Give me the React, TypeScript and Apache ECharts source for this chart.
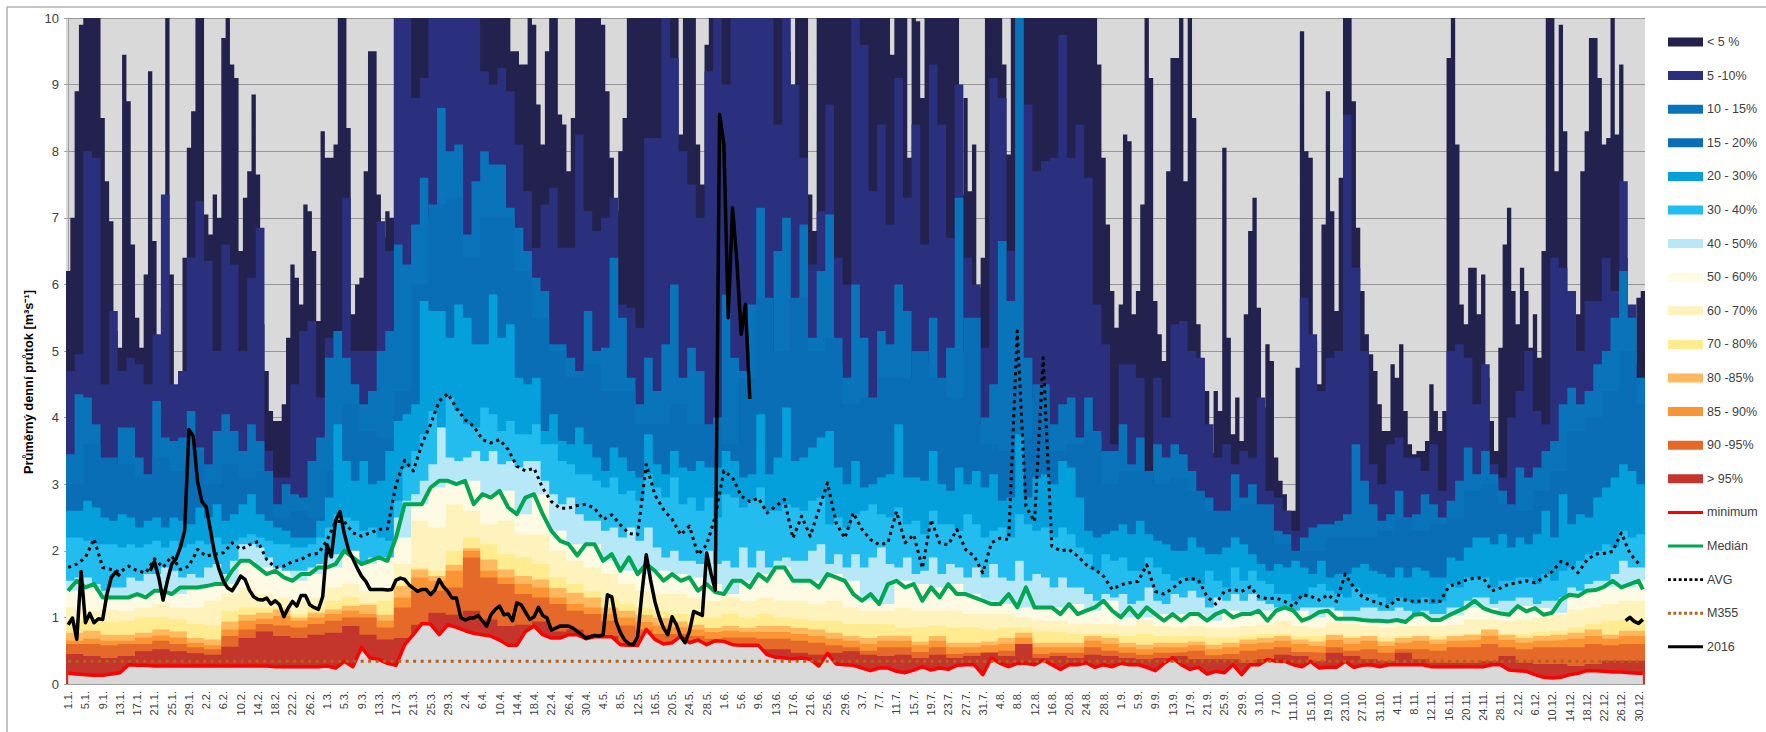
import React, { useEffect, useRef } from "react";
import * as echarts from "echarts";

const monthLengths = [31, 29, 31, 30, 31, 30, 31, 31, 30, 31, 30, 31];
const dayLabels: string[] = [];
monthLengths.forEach((len, m) => {
  for (let d = 1; d <= len; d++) dayLabels.push(`${d}.${m + 1}.`);
});

// Upper edge of each band. band5 is read per day, the next ones every 2nd day, the lowest every 4th day.
const band5 = [
  6.2,7.0,8.9,9.9,10,10,10,10,8.5,7.55,
  6.95,5.3,5.05,9.45,8.75,6.6,5.5,5.05,6.15,9.2,
  6.65,4.0,5.65,10,6.15,4.4,4.7,6.4,8.05,8.6,
  10,10,7.05,6.75,7.35,7.0,9.7,10,9.3,9.1,
  6.5,7.3,7.7,8.85,7.65,5.4,4.7,4.1,3.95,3.95,
  4.2,5.2,6.3,6.1,5.7,7.2,7.1,6.5,5.45,8.3,
  7.9,7.9,8.1,10,10,8.35,5.55,6.0,6.1,7.7,
  9.5,9.5,7.35,6.7,7.1,7.0,10,10,10,10,
  10,10,10,10,10,10,10,10,10,10,
  10,10,10,10,10,10,10,10,10,10,
  10,10,10,9.5,9.5,9.3,9.3,10,9.9,8.7,
  8.1,9.5,10,10,8.55,8.4,7.7,8.5,10,10,
  10,10,10,10,9.9,8.9,7.9,7.1,8.0,8.5,
  10,10,10,10,10,10,10,10,10,10,
  10,10,8.25,10,10,10,8.1,7.5,9.6,10,
  10,10,10,10,10,10,10,10,10,10,
  10,10,10,10,10,10,10,9.5,8.55,10,
  10,10,7.35,6.8,10,10,10,10,10,10,
  10,10,10,10,10,10,10,10,10,10,
  10,9.45,10,10,10,7.9,10,9.95,8.8,10,
  10,10,10,10,10,10,10,7.35,8.8,7.4,
  8.1,5.95,6.4,10,10,10,10,9.3,7.95,10,
  10,10,10,10,10,10,10,10,10,10,
  10,10,10,10,10,10,10,10,10,9.3,
  7.9,6.9,5.9,5.35,5.7,8.25,8.15,5.55,5.9,7.2,
  10,9.1,5.75,5.25,4.85,7.7,9.4,9.4,10,7.55,
  10,8.5,5.4,4.45,4.4,3.47,4.4,4.1,8.05,5.2,
  3.75,4.3,3.65,5.55,6.8,7.3,5.65,4.15,5.1,4.85,
  3.4,3.05,2.85,2.6,2.6,4.75,9.8,8.0,7.9,5.15,
  4.5,6.9,8.9,7.1,5.6,7.6,10,10,8.75,6.85,
  5.9,5.25,4.95,4.7,4.2,3.8,3.8,4.8,4.6,5.1,
  4.1,3.6,3.45,3.5,3.5,3.65,4.5,4.1,3.8,4.1,
  9.4,10,8.1,5.7,5.4,6.25,6.25,5.55,6.15,4.6,
  3.95,3.5,5.05,6.6,7.15,5.9,5.4,6.25,5.9,5.05,
  5.55,4.9,6.5,10,10,7.7,9.9,8.3,5.2,4.9,
  5.55,7.7,8.3,9.7,9.7,9.1,8.1,8.2,10,8.25,
  9.3,6.4,5.05,4.8,5.8,5.9,
];
const band10 = [
  4.7,4.95,8,7.9,4.5,5.6,4.7,4.9,4.8,4.5,
  5.25,7.35,4.5,4.7,6.4,7.25,6.35,5.0,6.6,6.3,
  5.0,6.1,6.85,3.5,3.1,3.1,4.5,5.3,5.45,4.3,
  5.2,5.3,7.3,5.0,5.0,5.0,6.95,6.5,10,10,
  8.8,9.1,10,10,10,10,10,10,9.2,9.0,
  9.25,8.9,8.1,7.4,6.55,7.2,7.45,6.55,6.55,8.25,
  7.1,6.8,7.0,7.3,5.7,5.65,5.35,8.2,8.2,10,
  9.4,8.0,7.5,7.0,9.2,10,9.0,10,10,10,
  10,10,8.4,10,9.0,7.9,6.3,7.1,8.7,6.4,
  6.0,10,9.6,7.4,8.4,6.9,9.1,7.3,8.4,6.6,
  9.3,8.4,6.7,9.0,6.4,6.0,5.05,9.1,8.8,6.5,
  10,8.7,7.7,7.85,7.9,9.75,7.9,8.4,7.6,5.7,
  5.1,3.6,4.8,4.8,4.6,3.1,4.6,4.0,5.4,5.45,
  5.0,4.9,3.9,3.4,3.6,3.3,3.5,3.4,4.3,2.9,
  2.8,2.6,2.3,5.8,5.25,4.4,4.9,5.0,8.55,6.25,
  5.0,3.3,3.0,3.6,3.7,3.4,3.4,3.2,3.6,2.9,
  5.0,5.1,4.9,4.2,4.8,3.3,3.1,4.0,4.4,5.0,
  4.1,3.9,6.4,6.25,5.9,5.0,5.75,5.75,6.4,5.9,
  7.55,5.7,4.4,
];
const band15 = [
  3.45,4.35,4.3,3.9,3.3,3.05,3.85,3.85,3.4,3.15,
  4.25,3.7,3.65,3.7,4.1,3.55,3.3,3.8,4.05,3.8,
  3.5,3.9,3.65,2.8,2.7,3.0,2.85,2.8,3.35,3.7,
  4.9,5.3,4.9,4.5,4.2,4.4,5.0,5.3,6.6,6.3,
  6.9,7.6,7.0,8.65,8.0,8.1,6.75,7.55,8.0,7.8,
  7.8,7.15,6.85,6.5,6.1,5.9,5.1,5.1,4.9,4.7,
  5.6,5.0,5.05,6.4,5.5,4.6,4.2,4.9,4.4,5.1,
  6.0,4.6,5.05,4.7,3.6,4.0,5.85,4.9,4.7,5.7,
  7.15,5.0,6.5,7.0,5.0,6.9,5.2,6.2,7.05,4.8,
  4.6,6.0,5.2,4.2,5.3,5.1,6.0,5.6,4.6,4.8,
  5.5,4.4,5.05,7.3,5.0,3.9,4.0,4.5,6.65,5.75,
  10,4.9,4.3,4.2,3.9,4.2,4.3,3.7,4.3,3.7,
  3.5,3.5,3.9,3.3,3.7,2.8,3.6,3.4,3.6,3.45,
  3.2,2.7,2.8,2.35,2.45,3.15,2.8,3.0,2.35,2.25,
  2.3,2.25,1.85,2.2,2.35,2.4,2.4,2.45,2.55,3.6,
  3.05,2.7,2.45,2.55,2.9,2.5,2.55,2.85,2.7,2.5,
  2.75,3.05,3.55,3.15,3.5,3.15,2.9,2.65,3.25,3.1,
  3.25,3.5,3.65,4.2,4.45,4.2,4.4,4.8,5.0,5.5,
  6.2,5.5,4.6,
];
const band20 = [
  3.0,3.6,3.4,3.3,3.1,3.4,3.2,3.5,3.0,3.3,
  3.1,3.2,2.5,2.6,2.5,3.2,4.2,3.8,3.7,4.4,
  6.0,7.2,7.3,6.4,7.0,7.0,6.2,5.5,5.0,4.6,
  4.8,4.4,4.4,3.9,3.9,4.2,3.9,3.9,3.6,4.6,
  5.8,5.0,5.8,5.0,5.2,4.2,4.3,4.6,4.6,5.0,
  4.6,4.3,5.5,3.6,3.5,3.7,4.5,3.5,3.6,3.8,
  3.0,3.2,3.2,3.0,3.1,2.9,2.6,2.6,2.7,2.7,
  2.1,2.0,2.0,2.2,2.2,2.2,2.3,2.5,2.3,2.4,
  2.5,2.9,3.0,2.7,2.6,2.9,3.2,3.8,4.0,4.4,
  5.0,4.2,
];
const band30 = [
  2.6,2.6,2.75,2.65,2.5,2.45,2.55,2.5,2.35,2.45,
  2.5,2.35,2.5,2.45,2.4,2.65,2.5,2.7,2.45,2.55,
  2.7,2.85,2.55,2.45,2.35,2.3,2.2,2.2,2.2,2.45,
  2.8,3.9,3.35,3.05,3.35,3.0,3.05,3.5,3.95,4.05,
  4.2,5.75,5.6,5.6,5.2,5.7,5.5,5.1,5.1,5.85,
  5.2,5.4,4.6,4.5,4.6,3.8,4.05,3.65,3.6,3.85,
  3.6,3.4,3.2,3.55,3.4,3.2,3.1,3.75,3.3,3.15,
  3.5,3.25,3.2,3.35,3.25,3.25,3.5,3.35,3.1,3.15,
  4.05,3.15,3.4,4.15,3.35,3.4,3.55,3.7,3.8,3.25,
  3.0,3.35,2.95,3.0,3.1,3.15,3.9,3.1,3.1,3.05,
  3.5,3.0,2.9,3.25,3.0,3.2,2.95,3.15,2.75,2.8,
  3.75,2.8,3.1,3.15,3.0,3.35,3.25,2.8,2.3,2.2,
  2.25,2.3,2.4,2.25,2.45,2.25,2.15,2.1,2.0,2.0,
  2.2,2.05,1.95,1.95,2.05,2.2,2.1,1.95,1.8,1.7,
  1.8,1.75,1.85,1.75,1.65,1.85,1.6,1.65,1.65,1.75,
  1.8,1.7,1.65,1.6,1.75,1.6,1.75,1.7,1.6,1.6,
  1.9,1.85,2.05,2.2,2.2,2.1,2.25,2.05,2.2,2.1,
  2.25,2.6,2.2,2.85,2.4,2.55,2.5,2.8,2.95,3.1,
  3.3,3.2,3.0,
];
const band40 = [
  2.2,2.2,2.15,2.1,2.1,2.1,2.05,2.1,2.05,2.1,
  2.15,2.05,2.15,2.05,2.1,2.15,2.1,2.2,2.1,2.15,
  2.2,2.25,2.2,2.15,2.1,2.1,2.05,2.05,2.1,2.2,
  2.35,2.55,2.5,2.45,2.3,2.35,2.2,2.15,2.75,3.25,
  3.5,3.75,4.1,3.85,4.3,4.1,3.9,3.85,4.15,4.05,
  3.8,3.95,3.75,3.75,3.9,3.6,3.6,3.35,3.3,3.15,
  3.15,3.05,2.95,3.1,2.85,2.9,2.75,3.15,2.95,2.8,
  3.1,2.7,2.8,2.6,2.8,2.5,2.85,2.8,2.65,2.75,
  2.95,2.6,2.6,2.7,2.65,2.6,2.75,2.8,2.4,2.5,
  2.35,2.55,2.6,2.7,2.55,2.5,2.65,2.4,2.45,2.25,
  2.6,2.4,2.4,2.3,2.55,2.4,2.2,2.3,2.35,2.2,
  2.55,2.4,2.3,2.35,2.2,2.35,2.25,2.05,1.95,1.7,
  1.95,1.85,1.9,1.7,1.7,1.9,1.75,1.65,1.55,1.6,
  1.55,1.5,1.7,1.55,1.45,1.75,1.55,1.7,1.55,1.5,
  1.35,1.35,1.25,1.3,1.45,1.5,1.4,1.35,1.3,1.45,
  1.35,1.35,1.3,1.2,1.3,1.25,1.2,1.3,1.2,1.25,
  1.5,1.45,1.6,1.6,1.6,1.45,1.55,1.55,1.6,1.6,
  1.5,1.65,1.55,1.7,1.75,1.85,1.95,2.0,2.1,2.05,
  2.3,2.2,2.25,
];
const band50 = [
  1.55,1.6,1.6,1.5,1.4,1.45,1.45,1.6,1.55,1.65,
  1.65,1.75,1.7,1.6,1.65,1.6,1.75,1.8,1.65,1.85,
  2.1,2.1,2.05,1.9,1.75,1.65,1.7,1.7,1.75,1.8,
  1.9,1.95,2.0,1.9,1.8,1.9,1.9,1.85,2.5,2.75,
  2.85,3.05,3.3,3.85,3.4,3.35,3.4,3.5,3.35,3.5,
  3.3,3.35,3.25,3.35,3.35,3.05,2.85,2.7,2.8,2.55,
  2.45,2.45,2.3,2.35,2.2,2.35,2.15,2.35,2.05,1.9,
  2.0,1.85,1.85,1.8,2.0,1.8,1.85,1.75,2.05,1.75,
  2.0,1.75,1.85,1.9,1.85,1.85,2.0,2.1,1.8,1.95,
  1.75,1.95,1.75,1.9,2.05,1.8,1.75,1.9,1.65,1.7,
  1.9,1.65,1.8,1.75,1.6,1.75,1.6,1.8,1.6,1.55,
  1.85,1.55,1.65,1.6,1.45,1.6,1.45,1.45,1.35,1.25,
  1.35,1.3,1.35,1.2,1.25,1.45,1.25,1.2,1.35,1.3,
  1.4,1.3,1.15,1.3,1.25,1.35,1.25,1.35,1.25,1.2,
  1.15,1.15,1.1,1.15,1.15,1.15,1.15,1.1,1.1,1.1,
  1.15,1.15,1.1,1.1,1.15,1.1,1.05,1.1,1.05,1.05,
  1.15,1.15,1.25,1.3,1.3,1.2,1.25,1.25,1.3,1.3,
  1.2,1.25,1.25,1.3,1.45,1.4,1.5,1.55,1.55,1.65,
  1.85,1.75,1.75,
];
const band60 = [
  1.4,1.45,1.3,1.3,1.35,1.4,1.35,1.45,1.47,1.5,
  1.85,1.75,1.7,1.55,1.65,1.75,2.0,1.8,1.9,2.2,
  2.7,2.95,3.05,3.05,2.85,2.9,2.55,2.85,2.3,2.1,
  2.1,1.85,1.7,1.65,1.7,1.65,1.6,1.5,1.35,1.55,
  1.65,1.75,1.55,1.55,1.65,1.55,1.25,1.2,1.55,1.5,
  1.45,1.5,1.35,1.25,1.2,1.15,1.15,1.15,1.2,1.1,
  1.25,1.0,1.0,1.05,1.05,1.05,.95,1.1,1.05,1.1,
  1.1,1.1,1.0,1.1,.98,.96,.95,.96,1.04,.96,
  1.03,1.15,1.14,1.06,1.17,1.14,1.07,1.34,1.4,1.46,
  1.45,1.55,
];
const band70 = [
  1.15,1.1,1.12,1.1,1.15,1.2,1.15,1.15,1.25,1.35,
  1.45,1.35,1.3,1.25,1.3,1.45,1.5,1.4,1.45,1.8,
  2.45,2.35,2.7,2.6,2.4,2.45,2.25,2.25,2.0,1.85,
  1.75,1.65,1.5,1.4,1.35,1.35,1.3,1.25,1.3,1.25,
  1.3,1.25,1.25,1.2,1.25,1.15,1.1,1.1,1.15,1.1,
  1.1,1.1,1.05,1.05,1.05,1.0,.95,.95,.9,.9,
  .9,.87,.95,.87,.85,.87,.85,.85,.87,.89,
  .95,.87,.85,.92,.9,.87,.85,.87,.87,.87,
  .89,.97,.97,.95,.97,.99,1.04,1.12,1.15,1.2,
  1.25,1.25,
];
const band80 = [
  .95,.95,.93,.95,1.0,1.0,.97,.9,.88,1.1,
  1.15,1.15,1.15,1.05,1.15,1.25,1.3,1.22,1.25,1.5,
  1.75,1.7,2.0,2.2,2.1,1.95,1.9,1.8,1.6,1.5,
  1.4,1.3,1.2,1.15,1.1,1.05,1.05,1.0,1.05,1.0,
  1.05,1.0,.98,.95,.95,.9,.9,.9,.85,.85,
  .88,.85,.85,.82,.85,.85,.8,.78,.75,.75,
  .75,.72,.75,.72,.72,.72,.7,.7,.72,.75,
  .75,.72,.72,.73,.72,.7,.7,.72,.72,.72,
  .72,.75,.76,.75,.76,.78,.8,.85,.9,.95,
  .97,.95,
];
const band85 = [
  .77,.8,.74,.74,.77,.82,.79,.69,.67,.94,
  1.04,1.07,1.12,1.0,1.07,1.12,1.17,1.19,1.04,1.47,
  1.72,1.62,1.79,2.04,1.87,1.72,1.62,1.57,1.44,1.37,
  1.3,1.15,1.1,1.04,.99,.94,.89,.84,.87,.84,
  .87,.87,.84,.82,.77,.72,.69,.72,.72,.64,
  .72,.62,.62,.64,.69,.77,.62,.62,.62,.72,
  .69,.62,.59,.62,.62,.64,.59,.62,.67,.69,
  .72,.67,.64,.74,.69,.72,.64,.69,.72,.67,
  .72,.74,.82,.74,.69,.72,.74,.77,.82,.74,
  .8,.8,
];
const band90 = [
  .65,.68,.65,.65,.7,.73,.7,.62,.58,.82,
  .95,.98,1.02,.95,1.0,1.05,1.1,1.05,.95,1.3,
  1.6,1.55,1.7,2.0,1.7,1.6,1.5,1.45,1.3,1.2,
  1.15,1.05,1.0,.93,.88,.85,.82,.78,.8,.78,
  .78,.78,.75,.72,.68,.65,.6,.65,.65,.58,
  .65,.55,.55,.58,.6,.7,.55,.55,.55,.65,
  .6,.55,.52,.55,.55,.58,.52,.55,.6,.62,
  .65,.6,.57,.66,.6,.65,.57,.62,.65,.6,
  .65,.66,.72,.66,.62,.65,.66,.68,.72,.68,
  .72,.72,
];
const band95 = [
  .6,.6,.58,.6,.6,.65,.6,.55,.52,.72,
  .82,.9,.88,.85,.9,.95,1.0,1.0,.85,1.15,
  1.4,1.4,1.45,1.9,1.6,1.5,1.35,1.3,1.2,1.1,
  1.05,.95,.88,.82,.75,.75,.72,.68,.7,.7,
  .68,.68,.65,.62,.58,.55,.5,.55,.55,.48,
  .55,.45,.47,.48,.5,.6,.45,.47,.47,.55,
  .5,.47,.44,.47,.48,.5,.43,.45,.5,.52,
  .55,.48,.47,.55,.5,.52,.47,.52,.52,.5,
  .55,.55,.6,.55,.52,.55,.55,.55,.6,.58,
  .6,.6,
];
const bandTop = [
  .45,.42,.39,.42,.49,.52,.49,.46,.44,.56,
  .69,.79,.72,.69,.74,.77,.87,.74,.67,.69,
  .89,1.07,1.04,1.1,.97,.87,.89,.94,.79,.82,
  .74,.72,.62,.6,.62,.57,.6,.57,.57,.57,
  .52,.52,.47,.44,.47,.49,.44,.42,.44,.39,
  .44,.39,.42,.47,.42,.6,.39,.42,.39,.44,
  .42,.39,.37,.39,.42,.37,.37,.37,.32,.37,
  .44,.42,.34,.47,.42,.37,.34,.47,.37,.32,
  .32,.32,.34,.42,.32,.3,.3,.27,.3,.35,
  .35,.35,
];
const minimum = [
  .16,.15,.14,.13,.13,.15,.17,.29,.28,.28,
  .27,.27,.27,.27,.27,.27,.27,.27,.27,.27,
  .27,.27,.27,.27,.26,.26,.26,.26,.26,.26,
  .27,.24,.34,.26,.55,.39,.37,.31,.28,.59,
  .74,.91,.9,.74,.89,.85,.8,.76,.74,.72,
  .66,.58,.58,.79,.87,.74,.69,.69,.74,.74,
  .68,.71,.71,.71,.59,.58,.58,.82,.67,.6,
  .62,.72,.62,.66,.59,.65,.64,.59,.58,.58,
  .58,.44,.4,.39,.38,.39,.37,.27,.46,.3,
  .29,.28,.24,.2,.24,.24,.19,.17,.21,.26,
  .21,.24,.22,.28,.29,.29,.14,.39,.31,.26,
  .31,.31,.29,.36,.29,.22,.29,.29,.32,.25,
  .29,.26,.31,.29,.29,.25,.2,.31,.39,.29,
  .22,.25,.15,.19,.17,.29,.14,.29,.29,.37,
  .34,.34,.29,.26,.34,.24,.25,.25,.34,.25,
  .28,.29,.26,.29,.29,.29,.29,.29,.26,.26,
  .26,.26,.26,.26,.26,.29,.29,.21,.2,.19,
  .14,.1,.09,.1,.14,.16,.2,.2,.19,.18,
  .18,.17,.16,
];
const median = [
  1.4,1.55,1.45,1.5,1.3,1.3,1.3,1.3,1.35,1.3,
  1.4,1.4,1.35,1.45,1.45,1.45,1.47,1.5,1.5,1.7,
  1.85,1.85,1.75,1.65,1.7,1.6,1.55,1.65,1.65,1.75,
  1.75,1.8,2.0,1.9,1.8,1.85,1.9,1.85,2.2,2.7,
  2.7,2.7,2.95,3.05,3.05,3.0,3.05,2.7,2.85,2.8,
  2.9,2.65,2.55,2.8,2.85,2.55,2.3,2.15,2.1,1.93,
  2.1,2.1,1.85,1.95,1.7,1.9,1.65,1.8,1.7,1.55,
  1.65,1.55,1.6,1.4,1.5,1.38,1.35,1.55,1.55,1.45,
  1.65,1.55,1.75,1.75,1.55,1.55,1.55,1.45,1.65,1.6,
  1.55,1.35,1.25,1.35,1.2,1.5,1.55,1.45,1.5,1.25,
  1.45,1.3,1.5,1.35,1.35,1.3,1.25,1.2,1.2,1.35,
  1.15,1.45,1.15,1.15,1.15,1.05,1.2,1.05,1.1,1.15,
  1.25,1.1,1.0,1.15,1.0,1.15,1.05,.95,1.05,.95,
  1.05,1.05,.95,1.05,1.1,1.0,1.05,1.05,1.1,.95,
  1.1,1.15,1.1,.95,1.0,1.08,1.1,.98,.98,.98,
  .96,.95,.95,.94,.96,.93,1.04,1.05,.96,.96,
  1.03,1.09,1.15,1.25,1.14,1.09,1.06,1.04,1.17,1.09,
  1.14,1.04,1.07,1.26,1.34,1.32,1.4,1.41,1.46,1.55,
  1.45,1.5,1.55,
];
const average = [
  1.75,1.8,1.9,2.18,1.75,1.72,1.68,1.77,1.7,1.67,
  1.88,1.75,1.92,1.72,1.77,2.02,1.92,1.95,1.97,2.12,
  2.02,2.09,2.14,1.87,1.75,1.77,1.84,1.87,1.94,1.96,
  2.16,2.44,2.44,2.27,2.22,2.27,2.32,2.33,3.0,3.36,
  3.2,3.6,3.9,4.25,4.36,4.14,3.97,3.87,3.67,3.62,
  3.67,3.52,3.27,3.2,3.24,2.94,2.74,2.64,2.64,2.68,
  2.7,2.64,2.47,2.54,2.39,2.26,2.24,3.3,2.84,2.62,
  2.47,2.24,2.37,1.94,2.09,2.52,3.2,3.1,2.82,2.74,
  2.79,2.57,2.67,2.77,2.19,2.52,2.22,2.62,3.02,2.42,
  2.19,2.57,2.32,2.17,2.09,2.12,2.59,2.12,2.24,1.74,
  2.47,2.12,2.09,2.32,2.02,1.92,1.67,2.12,2.19,2.17,
  5.3,2.67,2.44,4.9,2.07,2.0,2.02,1.92,1.79,1.72,
  1.62,1.42,1.49,1.52,1.54,1.79,1.39,1.35,1.44,1.54,
  1.59,1.56,1.31,1.2,1.39,1.42,1.39,1.46,1.31,1.28,
  1.29,1.24,1.16,1.34,1.32,1.26,1.34,1.24,1.65,1.45,
  1.31,1.25,1.21,1.16,1.27,1.26,1.24,1.25,1.25,1.24,
  1.46,1.51,1.56,1.59,1.59,1.4,1.44,1.5,1.52,1.55,
  1.52,1.6,1.69,1.84,1.79,1.67,1.86,1.95,1.96,1.99,
  2.27,1.96,1.81,
];
const m355 = [0.34, 0.34];
// Daily flow of 2016: 1 Jan to 7 Jun (with a gap in January), then the last days of December.
const year2016Start = [
  .89,.99,.67,1.69,.92,1.06,.92,.98,.97,1.35,
  1.6,1.68,1.62,null,null,null,null,null,null,1.7,
  1.84,1.6,1.26,1.55,1.8,1.88,2.05,2.3,3.82,3.72,
  3.04,2.74,2.66,2.3,1.94,1.72,1.54,1.44,1.4,1.5,
  1.62,1.57,1.41,1.31,1.27,1.26,1.29,1.2,1.25,1.19,
  1.01,1.14,1.24,1.17,1.33,1.33,1.19,1.15,1.12,1.31,
  2.09,1.91,2.46,2.59,2.26,2.01,1.88,1.74,1.62,1.54,
  1.42,1.42,1.42,1.42,1.41,1.42,1.56,1.59,1.57,1.49,
  1.44,1.39,1.42,1.42,1.34,1.41,1.57,1.46,1.39,1.29,
  1.29,1.0,.96,.99,.99,1.03,.95,.87,1.04,1.12,
  1.17,1.04,1.05,.95,1.22,1.19,1.08,.97,1.01,1.15,
  1.03,.99,.81,.84,.87,.87,.87,.84,.79,.74,
  .69,.71,.73,.72,.74,1.34,1.31,.94,.77,.66,
  .6,.59,.71,1.37,1.94,1.56,1.24,1.01,.84,.74,
  1.01,.89,.71,.62,.79,1.09,1.06,1.03,1.97,1.66,
  1.41,8.55,8.1,5.5,7.15,6.35,5.25,5.7,4.28,
];
const year2016End = [.95, 1.0, .94, .91, .97];
const year2016EndFirstDay = 361;

const bandNames = ["< 5 %","5 -10%","10 - 15%","15 - 20%","20 - 30%","30 - 40%","40 - 50%","50 - 60%","60 - 70%","70 - 80%","80 -85%","85 - 90%","90 -95%","> 95%"];
const bandColors = ["#23224f","#2a2f7e","#0a74bb","#0a6eb6","#03a0db","#22bdee","#b7e8f8","#fefae3","#fff3bd","#ffec90","#feb95f","#fb9533","#e56a2a","#c4352c"];
const bandValues = [band5,band10,band15,band20,band30,band40,band50,band60,band70,band80,band85,band90,band95,bandTop];
const bandSteps = [1,2,2,4,2,2,2,4,4,4,4,4,4,4];

const stepPoints = (values: number[], step: number) => [
  ...values.map((v, i) => [i * step - 0.5, v]),
  [365.5, values[values.length - 1]],
];
const linePoints = (values: (number | null)[], step = 1, first = 0) =>
  values.map((v, i) => [first + i * step, v]);

const W = 35;
const frameBox = `M0,0L${W},0L${W},0ZM0,9L${W},9L${W},9Z`;
const solidIcon = `path://${frameBox}M0,3H${W}V6H0Z`;
const dottedIcon = (() => {
  let d = frameBox;
  for (let x = 0; x < W; x += 5.6) d += `M${x},3H${x + 3}V6H${x}Z`;
  return `path://${d}`;
})();

const font = "Liberation Sans";

export default function App() {
  const ref = useRef<HTMLDivElement>(null);
  useEffect(() => {
    if (!ref.current) return;
    const chart = echarts.init(ref.current, undefined, { renderer: "svg" });
    const bandSeries = bandNames.map((name, i) => ({
      name,
      type: "line",
      xAxisIndex: 1,
      step: "end",
      symbol: "none",
      silent: true,
      itemStyle: { color: bandColors[i] },
      lineStyle: { width: 0 },
      areaStyle: { color: bandColors[i], opacity: 1 },
      data: stepPoints(bandValues[i], bandSteps[i]),
    }));
    const line = (name: string, color: string, width: number, data: any[], type: any = "solid", extra: any = {}) => ({
      name,
      type: "line",
      xAxisIndex: 1,
      symbol: "none",
      silent: true,
      connectNulls: false,
      itemStyle: { color },
      lineStyle: { color, width, type, join: "round" },
      data,
      ...extra,
    });
    const minSeries = line("minimum", "#ff0000", 3.5, linePoints(minimum, 2).concat([[365, minimum[minimum.length - 1]]]), "solid", {
      areaStyle: { color: "#d9d9d9", opacity: 1 },
    });
    chart.setOption({
      animation: false,
      backgroundColor: "#ffffff",
      textStyle: { fontFamily: font },
      grid: { left: 66, right: 121, top: 18, bottom: 48, show: true, backgroundColor: "#d9d9d9", borderWidth: 0 },
      xAxis: [
        {
          type: "category",
          data: dayLabels,
          boundaryGap: true,
          axisLine: { lineStyle: { color: "#a0a0a0" } },
          axisTick: { interval: 3, length: 5, lineStyle: { color: "#a0a0a0" } },
          axisLabel: { interval: 3, rotate: 90, fontSize: 11, color: "#404040", margin: 7, fontFamily: font },
          splitLine: { show: false },
        },
        { type: "value", show: false, min: -0.5, max: 365.5, splitLine: { show: false } },
      ],
      yAxis: {
        type: "value",
        min: 0,
        max: 10,
        interval: 1,
        axisLine: { show: true, lineStyle: { color: "#a0a0a0" } },
        axisTick: { show: true, length: 4, lineStyle: { color: "#a0a0a0" } },
        axisLabel: { fontSize: 13, color: "#404040", margin: 7, fontFamily: font },
        splitLine: { show: true, lineStyle: { color: "#969696", width: 1 } },
      },
      legend: {
        orient: "vertical",
        left: 1668,
        top: 35,
        itemWidth: W,
        itemHeight: 9,
        itemGap: 19.6,
        selectedMode: false,
        icon: "rect",
        padding: 0,
        textStyle: { fontSize: 12.5, color: "#404040", fontFamily: font, padding: [0, 0, 0, -1], lineHeight: 14 },
        data: [
          ...bandNames.map((name) => ({ name, icon: "rect" })),
          { name: "minimum", icon: solidIcon },
          { name: "Medián", icon: solidIcon },
          { name: "AVG", icon: dottedIcon },
          { name: "M355", icon: dottedIcon },
          { name: "2016", icon: solidIcon },
        ],
      },
      graphic: [
        { type: "line", silent: true, shape: { x1: 7, y1: 7, x2: 7, y2: 732 }, style: { stroke: "#8c8c8c", lineWidth: 1 } },
        { type: "line", silent: true, shape: { x1: 7, y1: 7, x2: 1766, y2: 7 }, style: { stroke: "#8c8c8c", lineWidth: 1 } },
        {
          type: "text",
          silent: true,
          x: 28,
          y: 382,
          rotation: Math.PI / 2,
          style: {
            text: "Průměrný denní průtok [m³s⁻¹]",
            fontFamily: font,
            fontSize: 12.8,
            fontWeight: "bold",
            fill: "#000000",
            textAlign: "center",
            textVerticalAlign: "middle",
          },
        },
      ],
      series: [
        ...bandSeries,
        minSeries,
        line("M355", "#b5611c", 3, linePoints(m355, 365), [3, 4.5]),
        line("Medián", "#00a651", 4, linePoints(median, 2).concat([[365, 1.42]])),
        line("AVG", "#000000", 3, linePoints(average, 2), [3, 4]),
        line("2016", "#000000", 3.5, [
          ...linePoints(year2016Start),
          [159, null],
          ...linePoints(year2016End, 1, year2016EndFirstDay),
        ]),
      ],
    });
    return () => chart.dispose();
  }, []);
  return <div ref={ref} style={{ position: "absolute", left: 0, top: 0, width: 1766, height: 732 }} />;
}
